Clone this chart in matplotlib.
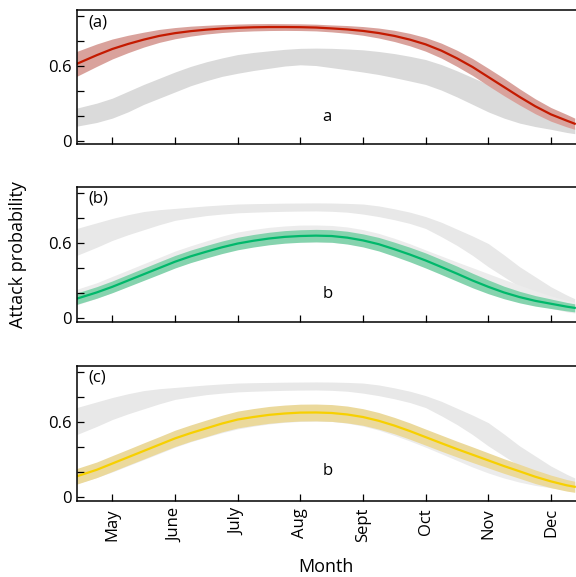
import matplotlib
matplotlib.use("Agg")
import matplotlib.pyplot as plt
import numpy as np

plt.rcParams['font.family'] = ['Open Sans', 'DejaVu Sans']

# month axis (May = 5 ... Dec = 12), read every quarter month
month = [4.43, 4.75, 5.0, 5.25, 5.5, 5.75, 6.0, 6.25, 6.5, 6.75, 7.0, 7.25, 7.5, 7.75, 8.0, 8.25,
         8.5, 8.75, 9.0, 9.25, 9.5, 9.75, 10.0, 10.25, 10.5, 10.75, 11.0, 11.25, 11.5, 11.75, 12.0,
         12.25, 12.38]
month_ticks = [5, 6, 7, 8, 9, 10, 11, 12]
month_labels = ['May', 'June', 'July', 'Aug', 'Sept', 'Oct', 'Nov', 'Dec']

# (a) red: fitted line and half-width of its band
a_mid = [.615, .685, .735, .775, .81, .84, .862, .878, .89, .899, .905, .909, .911, .911, .91, .907,
         .90, .892, .88, .863, .84, .81, .772, .722, .66, .59, .51, .43, .35, .275, .21, .16, .135]
a_err = [.10, .09, .08, .07, .06, .052, .045, .04, .035, .032, .03, .029, .028, .027, .027, .027,
         .028, .031, .035, .04, .045, .05, .055, .06, .065, .068, .07, .07, .065, .06, .055, .05, .045]

# (b) green
b_mid = [.155, .205, .25, .30, .35, .40, .45, .493, .53, .565, .595, .617, .635, .648, .655, .658,
         .655, .642, .62, .59, .55, .507, .46, .408, .355, .30, .25, .205, .168, .138, .115, .092, .082]
b_err = [.045, .046, .047, .048, .049, .05, .05, .05, .05, .05, .05, .05, .05, .05, .05, .05,
         .05, .051, .052, .054, .056, .058, .06, .06, .06, .058, .055, .05, .046, .042, .038, .034, .032]

# (c) yellow
c_mid = [.168, .22, .27, .32, .37, .42, .47, .512, .55, .588, .62, .64, .657, .668, .675, .676,
         .672, .66, .64, .61, .572, .528, .48, .432, .385, .34, .295, .25, .208, .165, .128, .097, .085]
c_err = [.062, .062, .063, .063, .064, .064, .065, .065, .066, .066, .067, .067, .067, .067, .067, .067,
         .067, .067, .066, .066, .065, .065, .064, .064, .063, .062, .06, .058, .056, .054, .05, .046, .044]

# grey reference band shown in panel (a)
grey_a_lo = [.115, .145, .18, .23, .29, .34, .39, .44, .48, .515, .54, .562, .58, .598, .608, .602,
             .585, .568, .55, .53, .505, .478, .45, .405, .35, .29, .23, .18, .14, .112, .09, .065, .055]
grey_a_hi = [.26, .30, .34, .395, .45, .50, .55, .595, .632, .663, .69, .707, .72, .732, .74, .742,
             .74, .735, .728, .715, .698, .676, .65, .61, .56, .505, .45, .38, .31, .24, .18, .12, .10]

# grey reference band shown in panels (b) and (c)
grey_bc_lo = [.50, .565, .62, .665, .705, .745, .78, .80, .818, .83, .84, .845, .849, .852, .854, .855,
              .852, .845, .83, .81, .785, .755, .715, .65, .58, .50, .41, .33, .25, .19, .14, .095, .075]
grey_bc_hi = [.715, .76, .795, .825, .85, .865, .875, .885, .895, .903, .91, .913, .915, .917, .918, .919,
              .918, .915, .91, .895, .872, .845, .81, .765, .71, .655, .595, .505, .41, .33, .25, .185, .155]

panels = [
    ('(a)', 'a', a_mid, a_err, '#c41a00', '#d9a29c', grey_a_lo, grey_a_hi, '#dadada', None),
    ('(b)', 'b', b_mid, b_err, '#00b86b', '#86d3ae', grey_bc_lo, grey_bc_hi, '#e8e8e8', (c_mid, c_err)),
    ('(c)', 'b', c_mid, c_err, '#f7d000', '#ebd99c', grey_bc_lo, grey_bc_hi, '#e8e8e8', (b_mid, b_err)),
]
letter_y = [0.19, 0.19, 0.21]

fig = plt.figure(figsize=(5.76, 5.77), dpi=100)
boxes = [(0.133, 0.7504, 0.867, 0.2323),
         (0.133, 0.4425, 0.867, 0.2339),
         (0.133, 0.1317, 0.867, 0.2345)]

for i, (tag, letter, mid, err, lc, fc, glo, ghi, gc, faint) in enumerate(panels):
    ax = fig.add_axes(boxes[i])
    mid = np.array(mid)
    err = np.array(err)
    ax.fill_between(month, glo, ghi, color=gc, lw=0)
    if faint is not None:
        fm, fe = np.array(faint[0]), np.array(faint[1])
        ax.fill_between(month, fm - fe, fm + fe, color='#ececec', lw=0)
    ax.fill_between(month, mid - err, mid + err, color=fc, lw=0)
    ax.plot(month, mid, color=lc, lw=1.6)

    ax.set_xlim(4.43, 12.4)
    ax.set_ylim(-0.028, 1.048)
    ax.set_yticks([0, 0.2, 0.4, 0.6, 0.8, 1.0])
    ax.set_yticklabels(['0', '', '', '0.6', '', ''], fontsize=12)
    ax.set_xticks(month_ticks)
    if i == 2:
        ax.set_xticklabels(month_labels, rotation=90, fontsize=12)
        ax.set_xlabel('Month', fontsize=13, labelpad=11)
    else:
        ax.set_xticklabels([])
    ax.tick_params(direction='in', length=5, width=0.9, top=False, right=False)
    ax.tick_params(axis='x', pad=5)
    ax.spines['right'].set_visible(False)
    for s in ['left', 'bottom', 'top']:
        ax.spines[s].set_linewidth(1.1)

    ax.text(0.023, 0.91, tag, transform=ax.transAxes, fontsize=12, va='center', ha='left')
    ax.text(8.43, letter_y[i], letter, fontsize=12, ha='center', va='center')

fig.text(0.031, 0.558, 'Attack probability', rotation=90, fontsize=13, ha='center', va='center')

fig.savefig('out.png', dpi=100)
